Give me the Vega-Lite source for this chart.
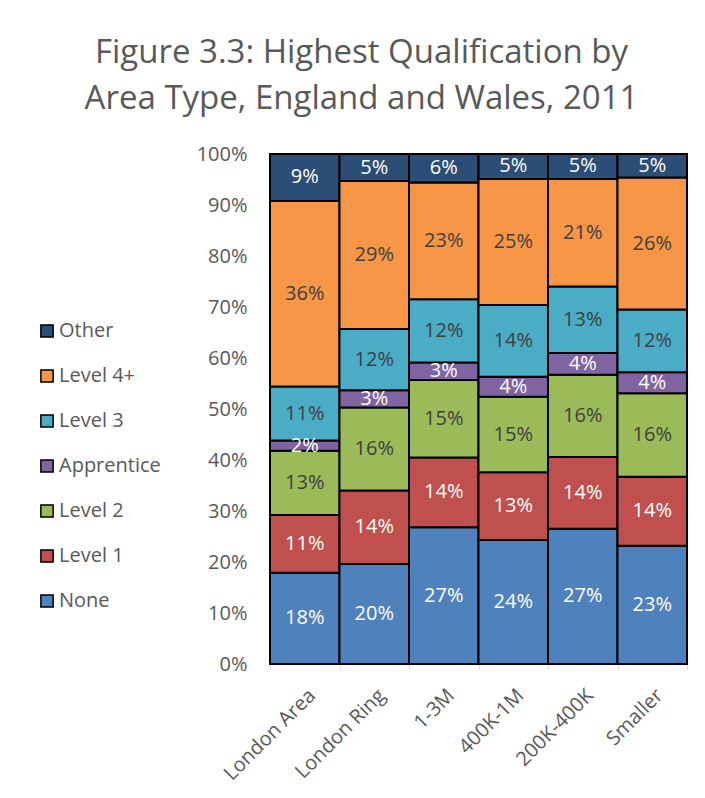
{
  "$schema": "https://vega.github.io/schema/vega-lite/v6.json",
  "width": 417,
  "height": 510,
  "autosize": "none",
  "padding": {"left": 270, "top": 154, "right": 18, "bottom": 134},
  "background": "white",
  "title": {
    "text": ["Figure 3.3: Highest Qualification by", "Area Type, England and Wales, 2011"],
    "font": "Open Sans",
    "fontSize": 33,
    "fontWeight": "normal",
    "color": "#595959",
    "lineHeight": 46,
    "anchor": "middle",
    "dx": -117,
    "offset": 28
  },
  "data": {
    "values": [
      {"area": "London Area", "q": "None", "k": 1, "v": 0.179},
      {"area": "London Area", "q": "Level 1", "k": 2, "v": 0.113},
      {"area": "London Area", "q": "Level 2", "k": 3, "v": 0.126},
      {"area": "London Area", "q": "Apprentice", "k": 4, "v": 0.020},
      {"area": "London Area", "q": "Level 3", "k": 5, "v": 0.106},
      {"area": "London Area", "q": "Level 4+", "k": 6, "v": 0.364},
      {"area": "London Area", "q": "Other", "k": 7, "v": 0.092},
      {"area": "London Ring", "q": "None", "k": 1, "v": 0.196},
      {"area": "London Ring", "q": "Level 1", "k": 2, "v": 0.144},
      {"area": "London Ring", "q": "Level 2", "k": 3, "v": 0.163},
      {"area": "London Ring", "q": "Apprentice", "k": 4, "v": 0.034},
      {"area": "London Ring", "q": "Level 3", "k": 5, "v": 0.120},
      {"area": "London Ring", "q": "Level 4+", "k": 6, "v": 0.290},
      {"area": "London Ring", "q": "Other", "k": 7, "v": 0.053},
      {"area": "1-3M", "q": "None", "k": 1, "v": 0.268},
      {"area": "1-3M", "q": "Level 1", "k": 2, "v": 0.137},
      {"area": "1-3M", "q": "Level 2", "k": 3, "v": 0.152},
      {"area": "1-3M", "q": "Apprentice", "k": 4, "v": 0.034},
      {"area": "1-3M", "q": "Level 3", "k": 5, "v": 0.124},
      {"area": "1-3M", "q": "Level 4+", "k": 6, "v": 0.229},
      {"area": "1-3M", "q": "Other", "k": 7, "v": 0.056},
      {"area": "400K-1M", "q": "None", "k": 1, "v": 0.243},
      {"area": "400K-1M", "q": "Level 1", "k": 2, "v": 0.133},
      {"area": "400K-1M", "q": "Level 2", "k": 3, "v": 0.148},
      {"area": "400K-1M", "q": "Apprentice", "k": 4, "v": 0.039},
      {"area": "400K-1M", "q": "Level 3", "k": 5, "v": 0.141},
      {"area": "400K-1M", "q": "Level 4+", "k": 6, "v": 0.247},
      {"area": "400K-1M", "q": "Other", "k": 7, "v": 0.049},
      {"area": "200K-400K", "q": "None", "k": 1, "v": 0.265},
      {"area": "200K-400K", "q": "Level 1", "k": 2, "v": 0.141},
      {"area": "200K-400K", "q": "Level 2", "k": 3, "v": 0.161},
      {"area": "200K-400K", "q": "Apprentice", "k": 4, "v": 0.043},
      {"area": "200K-400K", "q": "Level 3", "k": 5, "v": 0.130},
      {"area": "200K-400K", "q": "Level 4+", "k": 6, "v": 0.211},
      {"area": "200K-400K", "q": "Other", "k": 7, "v": 0.049},
      {"area": "Smaller", "q": "None", "k": 1, "v": 0.232},
      {"area": "Smaller", "q": "Level 1", "k": 2, "v": 0.135},
      {"area": "Smaller", "q": "Level 2", "k": 3, "v": 0.164},
      {"area": "Smaller", "q": "Apprentice", "k": 4, "v": 0.041},
      {"area": "Smaller", "q": "Level 3", "k": 5, "v": 0.123},
      {"area": "Smaller", "q": "Level 4+", "k": 6, "v": 0.259},
      {"area": "Smaller", "q": "Other", "k": 7, "v": 0.046}
    ]
  },
  "encoding": {
    "x": {
      "field": "area",
      "type": "nominal",
      "sort": ["London Area", "London Ring", "1-3M", "400K-1M", "200K-400K", "Smaller"],
      "scale": {"paddingInner": 0, "paddingOuter": 0},
      "axis": {
        "title": null,
        "labelAngle": -45,
        "labelFont": "Open Sans",
        "labelFontSize": 20,
        "labelColor": "#595959",
        "labelPadding": 16,
        "domainColor": "#D9D9D9",
        "domainWidth": 1.5,
        "tickColor": "#D9D9D9",
        "tickBand": "extent",
        "tickSize": 5
      }
    },
    "y": {
      "field": "v",
      "type": "quantitative",
      "stack": "zero",
      "scale": {"domain": [0, 1], "nice": false},
      "axis": {
        "title": null,
        "format": ".0%",
        "values": [0, 0.1, 0.2, 0.3, 0.4, 0.5, 0.6, 0.7, 0.8, 0.9, 1],
        "grid": false,
        "domain": false,
        "ticks": false,
        "labelFont": "Open Sans",
        "labelFontSize": 20,
        "labelColor": "#595959",
        "labelPadding": 23
      }
    },
    "order": {"field": "k", "type": "quantitative", "sort": "ascending"}
  },
  "layer": [
    {
      "mark": {"type": "bar", "stroke": "black", "strokeWidth": 2},
      "encoding": {
        "color": {
          "field": "q",
          "type": "nominal",
          "scale": {
            "domain": ["None", "Level 1", "Level 2", "Apprentice", "Level 3", "Level 4+", "Other"],
            "range": ["#4F81BD", "#C0504D", "#9BBB59", "#8064A2", "#4BACC6", "#F79646", "#2C4D75"]
          },
          "legend": {
            "title": null,
            "orient": "none",
            "legendX": -233,
            "legendY": 167,
            "values": ["Other", "Level 4+", "Level 3", "Apprentice", "Level 2", "Level 1", "None"],
            "symbolType": "square",
            "symbolSize": 150,
            "symbolStrokeColor": "black",
            "symbolStrokeWidth": 1.5,
            "symbolOpacity": 1,
            "labelFont": "Open Sans",
            "labelFontSize": 20,
            "labelColor": "#595959",
            "labelOffset": 2,
            "rowPadding": 25
          }
        }
      }
    },
    {
      "mark": {"type": "text", "font": "Open Sans", "fontSize": 20},
      "encoding": {
        "y": {"field": "v", "type": "quantitative", "stack": "zero", "bandPosition": 0.5},
        "detail": {"field": "q", "type": "nominal"},
        "text": {"field": "v", "type": "quantitative", "format": ".0%"},
        "color": {
          "condition": {"test": "datum.q === 'Level 2' || datum.q === 'Level 3' || datum.q === 'Level 4+'", "value": "#404040"},
          "value": "white"
        }
      }
    }
  ],
  "config": {"view": {"stroke": null}}
}
